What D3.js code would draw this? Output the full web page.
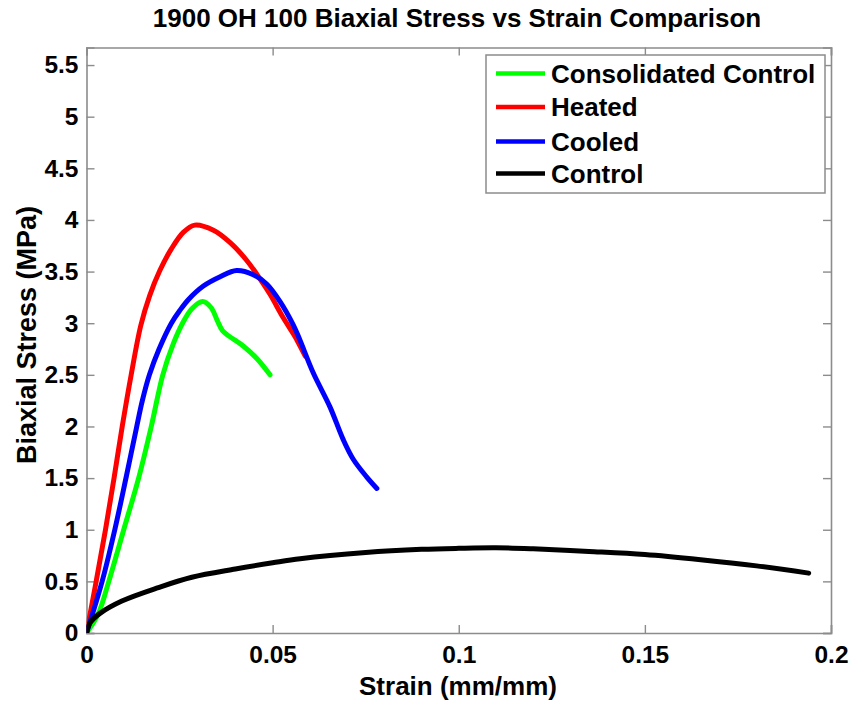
<!DOCTYPE html>
<html>
<head>
<meta charset="utf-8">
<script src="https://cdn.jsdelivr.net/npm/d3@7"></script>
<style>
  html, body { margin: 0; padding: 0; background: #fff; }
  svg { display: block; font-family: "Liberation Sans", Arial, sans-serif; font-weight: bold; }
</style>
</head>
<body>
<svg id="chart" width="854" height="702"></svg>
<script>
// ---- Data (strain mm/mm, stress MPa) ----
const seriesNames = ["Consolidated Control", "Heated", "Cooled", "Control"];
const seriesColors = ["#00ff00", "#ff0000", "#0000ff", "#000000"];

const consolidatedStrain = [0, 0.0032, 0.0059, 0.0100, 0.0140, 0.0174, 0.0205, 0.0233, 0.0258, 0.0283, 0.0312, 0.0335, 0.0352, 0.0365, 0.0381, 0.0421, 0.0457, 0.0493];
const consolidatedStress = [0, 0.19, 0.49, 1.0, 1.5, 2.0, 2.5, 2.8, 3.0, 3.14, 3.21, 3.15, 3.02, 2.93, 2.88, 2.78, 2.66, 2.50];

const heatedStrain = [0, 0.0026, 0.0051, 0.0074, 0.0096, 0.0120, 0.0146, 0.0170, 0.0197, 0.0228, 0.0260, 0.0291, 0.0341, 0.0386, 0.0430, 0.0466, 0.0493, 0.0529, 0.0562, 0.0588];
const heatedStress = [0, 0.5, 1.0, 1.5, 2.0, 2.5, 2.98, 3.27, 3.51, 3.72, 3.88, 3.95, 3.90, 3.78, 3.61, 3.43, 3.28, 3.05, 2.86, 2.68];

const cooledStrain = [0, 0.0042, 0.0076, 0.0106, 0.0135, 0.0150, 0.0169, 0.0195, 0.0228, 0.0250, 0.0274, 0.0314, 0.0359, 0.0403, 0.0448, 0.0484, 0.0520, 0.0556, 0.0573, 0.0609, 0.0654, 0.0690, 0.0717, 0.0753, 0.0780];
const cooledStress = [0, 0.5, 1.0, 1.5, 2.0, 2.25, 2.5, 2.75, 3.0, 3.12, 3.23, 3.36, 3.45, 3.51, 3.47, 3.38, 3.21, 2.98, 2.84, 2.52, 2.19, 1.87, 1.68, 1.51, 1.40];

const controlStrain = [0, 0.001, 0.0036, 0.0095, 0.0193, 0.0283, 0.040, 0.050, 0.0574, 0.075, 0.090, 0.100, 0.110, 0.120, 0.135, 0.150, 0.165, 0.180, 0.194];
const controlStress = [0, 0.1, 0.19, 0.31, 0.44, 0.54, 0.62, 0.68, 0.72, 0.78, 0.81, 0.82, 0.825, 0.815, 0.79, 0.76, 0.71, 0.65, 0.58];

const xTicks = [0, 0.05, 0.1, 0.15, 0.2];
const xTickLabels = ["0", "0.05", "0.1", "0.15", "0.2"];
const yTicks = [0, 0.5, 1, 1.5, 2, 2.5, 3, 3.5, 4, 4.5, 5, 5.5];
const yTickLabels = ["0", "0.5", "1", "1.5", "2", "2.5", "3", "3.5", "4", "4.5", "5", "5.5"];

const titleText = "1900 OH 100 Biaxial Stress vs Strain Comparison";
const xLabel = "Strain (mm/mm)";
const yLabel = "Biaxial Stress (MPa)";

// ---- Layout ----
const svg = d3.select("#chart");
const L = 86.5, R = 831, T = 47.5, B = 633;
const x = d3.scaleLinear().domain([0, 0.2]).range([L, R]);
const y = d3.scaleLinear().domain([0, 5.67]).range([B, T]);
const axisColor = "#8c8c8c";

const series = [
  { name: seriesNames[0], color: seriesColors[0], xs: consolidatedStrain, ys: consolidatedStress },
  { name: seriesNames[1], color: seriesColors[1], xs: heatedStrain, ys: heatedStress },
  { name: seriesNames[2], color: seriesColors[2], xs: cooledStrain, ys: cooledStress },
  { name: seriesNames[3], color: seriesColors[3], xs: controlStrain, ys: controlStress }
];

svg.append("defs").append("clipPath").attr("id", "clip")
  .append("rect").attr("x", L).attr("y", T).attr("width", R - L).attr("height", B - T);

// axes (ticks inward, mirrored)
const tickLen = 8;
const gx = svg.append("g").attr("transform", `translate(0,${B})`)
  .call(d3.axisBottom(x).tickValues(xTicks).tickFormat((d, i) => xTickLabels[i]).tickSize(-tickLen).tickPadding(13));
const gxTop = svg.append("g").attr("transform", `translate(0,${T})`)
  .call(d3.axisTop(x).tickValues(xTicks).tickFormat("").tickSize(-tickLen));
const gy = svg.append("g").attr("transform", `translate(${L},0)`)
  .call(d3.axisLeft(y).tickValues(yTicks).tickFormat((d, i) => yTickLabels[i]).tickSize(-tickLen).tickPadding(12));
const gyR = svg.append("g").attr("transform", `translate(${R},0)`)
  .call(d3.axisRight(y).tickValues(yTicks).tickFormat("").tickSize(-tickLen));

[gx, gxTop, gy, gyR].forEach(g => {
  g.select(".domain").attr("stroke", axisColor).attr("stroke-width", 1.6);
  g.selectAll(".tick line").attr("stroke", axisColor).attr("stroke-width", 1.4);
  g.selectAll(".tick text").attr("fill", "#000").style("font-size", "24.5px").style("font-weight", "bold")
    .style("font-family", "'Liberation Sans', Arial, sans-serif");
});
gy.selectAll(".tick text").attr("dx", "4");

// lines
const line = d3.line().x(d => x(d[0])).y(d => y(d[1])).curve(d3.curveCatmullRom.alpha(0.5));
const plot = svg.append("g").attr("clip-path", "url(#clip)");
series.forEach(s => {
  const pts = s.xs.map((v, i) => [v, s.ys[i]]);
  plot.append("path").datum(pts)
    .attr("d", line)
    .attr("fill", "none")
    .attr("stroke", s.color)
    .attr("stroke-width", 5)
    .attr("stroke-linejoin", "round")
    .attr("stroke-linecap", "round");
});

// title & labels
svg.append("text").attr("x", 457).attr("y", 27).attr("text-anchor", "middle")
  .style("font-size", "26px").text(titleText);
svg.append("text").attr("x", 458).attr("y", 695).attr("text-anchor", "middle")
  .style("font-size", "26px").text(xLabel);
svg.append("text").attr("transform", "translate(36,335) rotate(-90)").attr("text-anchor", "middle")
  .style("font-size", "27px").text(yLabel);

// legend
const lg = svg.append("g");
lg.append("rect").attr("x", 486).attr("y", 55).attr("width", 339).attr("height", 138)
  .attr("fill", "#fff").attr("stroke", axisColor).attr("stroke-width", 1.5);
const rowY = [73.5, 107, 141.5, 173.5];
series.forEach((s, i) => {
  lg.append("line").attr("x1", 496).attr("x2", 545).attr("y1", rowY[i]).attr("y2", rowY[i])
    .attr("stroke", s.color).attr("stroke-width", 4.5);
  lg.append("text").attr("x", 551).attr("y", rowY[i]).attr("dy", "0.36em")
    .style("font-size", "26px").text(s.name);
});
</script>
</body>
</html>
